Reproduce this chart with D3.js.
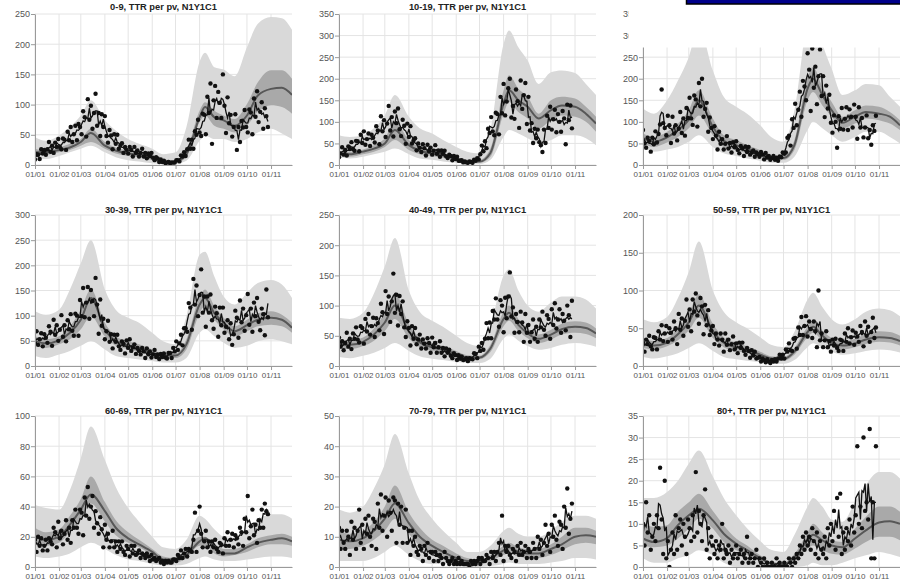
<!DOCTYPE html>
<html>
<head>
<meta charset="utf-8">
<script src="https://cdn.jsdelivr.net/npm/d3@7"></script>
<style>
  body { margin: 0; background: #fff; }
  svg { display: block; font-family: "Liberation Sans", Arial, sans-serif; }
  .grid line { stroke: #e4e4e4; stroke-width: 1; }
  .axis text { fill: #555; font-size: 9px; }
  .xaxis text { font-size: 8px; }
  .axis path, .axis line { stroke: #9a9a9a; }
  .title { font-size: 9.3px; font-weight: bold; fill: #222; }
</style>
</head>
<body>
<svg width="900" height="584"></svg>
<script>
// panel titles, one per age group
const titles = ["0-9, TTR per pv, N1Y1C1", "10-19, TTR per pv, N1Y1C1", "20-29, TTR per pv, N1Y1C1",
  "30-39, TTR per pv, N1Y1C1", "40-49, TTR per pv, N1Y1C1", "50-59, TTR per pv, N1Y1C1",
  "60-69, TTR per pv, N1Y1C1", "70-79, TTR per pv, N1Y1C1", "80+, TTR per pv, N1Y1C1"];
const yMax = [250, 350, 350, 300, 250, 200, 100, 50, 35];
const yStep = [50, 50, 50, 50, 50, 50, 20, 10, 5];

// model knots (dates) for the bands and median
const knotDates = ["2021-01-01","2021-01-15","2021-02-01","2021-02-15","2021-03-01","2021-03-14",
  "2021-04-01","2021-04-15","2021-05-01","2021-05-15","2021-06-01","2021-06-15","2021-07-01",
  "2021-07-15","2021-08-01","2021-08-08","2021-08-20","2021-09-01","2021-09-15","2021-10-01",
  "2021-10-15","2021-11-01","2021-11-15","2021-11-28"];

const upper95 = [
  [46,40,49,63,82,107,74,57,43,35,27,18,21,63,171,186,162,158,147,195,234,245,243,224],
  [69,65,69,85,115,162,112,85,73,58,42,31,27,81,281,312,273,242,188,215,219,213,188,162],
  [131,119,150,196,250,319,219,158,135,119,92,65,54,127,335,365,281,223,162,173,188,185,158,135],
  [109,102,112,152,204,250,152,112,96,86,66,49,43,99,221,227,178,138,122,145,165,171,162,135],
  [80,78,88,120,165,212,125,90,75,65,50,38,33,65,150,160,125,100,90,105,115,115,110,95],
  [62,58,65,90,125,165,100,72,58,50,38,28,25,45,88,97,78,62,55,62,72,76,74,66],
  [41,39,38,51,72,93,71,53,39,30,20,13,12,18,34,32,25,20,19,24,31,35,35,32],
  [19,18,20,26,34,44,31,22,16,12,8,5,5,7,12,13,11,10,10,12,15,17,17,16],
  [16,16,17.4,20,24,27,21,16,12,9,6,4,3.5,7.4,14,16,14,11,10.5,15,19,22,22,20.5]
];
const upper50 = [
  [27,24,29,35,43,60,38,29,24,19,14,9,8,24,90,104,90,82,76,101,137,157,157,143],
  [31,31,36,46,62,100,58,42,35,27,19,12,12,38,173,208,177,158,119,150,158,154,135,112],
  [73,65,77,96,127,173,108,69,58,46,35,23,21,58,204,227,181,146,112,127,138,135,123,104],
  [59,53,59,79,112,152,86,59,49,43,33,25,25,53,138,152,119,96,79,92,105,109,102,86],
  [45,42,47,62,88,120,70,47,38,33,25,18,17,35,90,100,78,62,52,60,70,74,72,62],
  [36,33,37,50,70,95,56,38,31,26,19,13,12,24,52,60,47,37,32,36,42,46,45,40],
  [26,23,25,34,45,60,43,31,23,18,12,7,6,11,20,20,15,12,12,15,19,21,22,20],
  [12,11,12,15,20,27,18,13,9,7,4.5,3,2.5,4,7,8,6.5,6,6,7.5,10,13,13,12],
  [10,9.3,9.7,12.8,15,17,13,9.7,6.6,5,2.7,1.2,1,3,8,10,8,6.2,5.8,8.9,11.6,14,14,12.8]
];
const median = [
  [21,21,25,29,38,53,32,24,19,17,12,6,6,18,79,96,79,74,65,82,115,126,128,116],
  [25,25,31,38,50,81,46,33,27,22,15,8,8,28,142,173,150,135,108,127,138,135,119,96],
  [62,54,64,81,105,150,88,56,46,37,27,18,16,46,177,200,162,127,98,112,123,119,112,92],
  [49,45,51,66,92,135,73,49,41,35,26,21,21,43,122,135,105,86,69,81,92,96,92,76],
  [37,35,40,52,72,100,57,39,31,27,20,14,14,29,78,88,68,54,45,52,61,65,63,54],
  [30,27,31,42,58,80,46,31,25,21,15,10,9,19,45,52,40,31,27,30,35,38,37,33],
  [20,18,20,28,38,48,37,26,19,15,10,5,5,8,17,19,13,9,9,13,16,18,19,17],
  [9,8.5,9.5,12,16,21,14.5,10,7,5,3,2,1.8,3,5.5,6.5,5,4.5,4.5,6,7.5,10,10.5,10],
  [6.6,5.8,6.7,9.7,12,13.5,10.8,7.7,5.4,3.9,2.1,0.8,0.6,2.3,6.2,7.5,6.2,5,4.6,6.6,8.5,10.3,10.6,10]
];
const lower50 = [
  [18,17,21,25,32,38,27,19,15,13,8,4,4,13,71,82,65,60,54,65,88,99,96,85],
  [21,19,25,31,42,58,35,25,21,16,12,5,5,19,119,146,123,108,85,104,115,112,100,77],
  [50,42,52,65,85,115,69,42,35,27,19,13,12,35,150,169,138,112,85,96,108,104,96,81],
  [40,36,43,53,73,99,59,40,33,28,21,16,16,33,105,119,92,73,59,69,79,82,79,66],
  [30,28,33,42,58,78,46,31,25,22,16,11,11,23,66,75,58,46,38,44,52,55,53,46],
  [24,22,26,34,47,64,37,25,20,17,12,8,7,15,38,44,34,26,22,25,29,32,31,27],
  [16,14,16,23,31,42,30,21,16,13,8,4,3,6,14,14,9,7,8,10,13,15,15,14],
  [6,6,7,9,12,16,11,7,5,3.5,2,1,1,2,4,4.5,3.5,3,3,4,5.5,7.5,8,7.5],
  [5,4.6,5,6.6,8.9,11.2,8.9,5.8,3.9,2.7,1.5,0.5,0.4,1.5,4.3,5,3.9,3.1,2.9,4.3,5.8,7,7,6.2]
];
const lower95 = [
  [13,10,15,21,27,32,21,13,8,6,3,2,2,7,40,49,43,43,38,43,54,60,52,43],
  [19,15,19,25,31,38,25,15,12,8,5,2,2,12,65,81,73,62,50,58,69,69,62,46],
  [42,31,36,42,54,69,42,27,21,15,10,5,5,19,81,100,85,69,54,65,77,77,65,50],
  [20,16,23,30,40,49,33,20,16,13,10,7,7,16,66,73,59,46,36,40,49,53,49,43],
  [15,13,17,22,30,38,25,16,12,10,7,5,5,12,45,52,42,33,27,30,35,38,36,32],
  [12,10,13,17,24,30,20,12,9,7,5,3,3,8,25,30,24,19,15,17,20,22,21,18],
  [7,6,7,9,13,16,12,8,5,4,2,1,1,2,6,7,5,4,4,5,6,7,7,6],
  [2,2,2,3,5,7,4,2,1,1,0.3,0,0,0.3,1,1.5,1,1,1,1.5,2,3,3,2.5],
  [2,1,1,2,2.7,3.9,2.7,1,0,0,0,0,0,0,0.4,1,0.4,0.4,1,2,2.7,3.5,3,2.3]
];

// observed values, one every 2 days from 1 Jan
const obsStart = "2021-01-01";
const obsEveryDays = 2;
const observed = [
  [9,18,17,10,26,19,25,17,26,38, 22,32,20,37,30,43,30,26,44,42, 25,55,41,63,38,51,65,41,68,63,
   51,89,79,47,109,75,98,60,86,118, 65,86,48,84,63,81,48,37,58,49, 26,51,35,50,27,32,36,20,30,25,
   19,30,25,14,30,20,24,14,20,27, 14,20,11,19,15,20,12,8,13,11, 5,9,5,7,3,4,5,3,4,4,
   4,8,8,6,16,14,21,15,26,42, 27,42,27,56,50,75,54,48,85,83, 51,113,86,135,35,107,131,78,121,103,
   78,150,98,53,112,69,83,47,63,84, 25,63,38,73,62,91,63,54,92,87, 51,110,80,122,71,88,104,60,94,81, 63],
  [18,27,41,24,35,22,43,37,53,37, 33,56,55,32,70,51,78,47,60,73, 44,70,63,52,90,80,48,113,78,104,
   65,96,137,80,111,66,124,97,131,83, 67,105,91,49,96,65,90,50,57,62, 34,50,40,30,48,39,22,47,32,40,
   24,33,46,26,34,19,34,26,33,20, 16,24,21,11,21,14,19,10,10,11, 6,8,6,5,8,7,5,12,10,16,
   13,25,45,32,55,39,84,74,111,78, 69,121,118,71,158,120,188,115,147,178, 200,110,137,107,175,148,86,196,130,162,
   190,95,158,80,97,51,84,62,82,53, 46,30,82,51,114,86,135,82,106,128, 76,118,100,77,125,108,48,140,104,138, 85],
  [81,50,40,63,56,31,63,48,78,52, 72,94,175,97,86,69,114,92,51,112, 73,92,57,84,123,74,108,68,132,109,
   156,108,93,161,152,89,190,136,200,112, 130,144,77,110,86,60,90,68,36,77, 49,60,36,49,67,38,51,29,53,41,
   55,35,27,44,39,21,43,30,42,24, 29,34,19,29,25,19,30,24,13,28, 17,21,12,16,21,12,17,10,20,18,
   29,26,29,63,68,45,106,86,142,92, 128,170,112,195,182,150,259,221,125,270, 179,228,141,206,268,160,206,111,184,131,
   163,98,75,115,100,40,113,84,132,82, 107,134,81,129,112,87,140,112,61,134, 87,109,64,87,115,62,81,47,92,79, 114],
  [45,69,42,53,65,39,63,56,46,79, 68,40,92,62,81,50,72,101,58,81, 49,91,73,103,70,60,104,100,60,131,
   99,155,97,126,157,94,151,129,99,175, 122,64,132,80,94,53,69,90,48,63, 35,62,48,62,39,32,49,44,25,51,
   36,53,30,37,43,24,36,30,23,36, 29,16,35,23,29,17,23,32,18,23, 14,24,18,25,17,15,26,26,16,36,
   29,49,32,45,62,41,75,75,68,125, 116,72,173,122,160,99,141,192,106,138, 78,138,106,142,91,74,118,105,58,116,
   81,116,66,78,91,53,85,42,63,110, 96,56,130,87,114,70,101,143,82,114, 68,126,99,135,88,71,114,103,61,152, 97],
  [47,32,41,26,38,55,32,45,28,54, 45,64,44,39,66,63,37,78,57,86, 52,66,80,48,79,71,59,103,89,53,
   124,86,115,73,107,153,88,118,67,116, 86,107,64,48,74,63,34,66,45,63, 36,44,52,29,44,37,29,46,38,22,
   47,31,38,22,31,41,22,30,16,29, 22,27,17,13,21,18,10,18,12,16, 10,11,13,8,13,12,11,21,20,13,
   32,25,38,27,45,71,46,72,46,91, 77,112,77,65,109,100,56,113,79,115, 155,82,97,55,86,73,56,90,72,40,
   86,55,68,40,56,77,45,65,40,77, 64,90,60,50,84,78,45,94,68,104, 62,77,94,55,86,75,59,100,84,48, 108],
  [31,19,35,29,40,26,22,38,37,22, 46,35,54,33,43,53,32,50,44,35, 59,50,29,69,48,63,40,60,88,52,
   75,46,88,72,96,67,56,90,79,42, 81,54,74,41,47,53,29,43,35,27, 43,35,19,43,28,35,21,29,39,22,
   30,17,31,24,31,20,15,24,20,11, 21,14,19,10,11,12,6,10,8,5, 9,6,4,8,6,9,6,10,15,10,
   15,10,22,19,30,21,20,36,37,23, 51,41,65,41,53,66,39,59,49,37, 59,46,25,100,34,43,25,34,46,25,
   33,19,35,27,36,24,20,35,34,20, 43,32,50,30,38,47,28,44,39,32, 53,45,26,59,40,52,32,45,64,37, 51],
  [18,10,20,14,19,11,14,18,11,19, 17,15,26,23,13,30,19,24,15,22, 31,18,26,16,31,26,38,26,22,38,
   36,21,46,34,53,32,40,47,26,37, 29,22,33,25,13,28,18,22,13,17, 24,13,17,10,17,12,17,10,8,14,
   12,7,14,9,14,8,9,11,6,9, 8,6,9,7,4,8,5,6,4,5, 6,3,4,2,4,3,4,3,3,5,
   5,4,8,6,11,6,9,12,7,12, 11,10,18,36,10,24,40,22,13,17, 24,13,17,10,17,13,18,12,10,16,
   15,9,19,14,23,14,18,22,13,21, 19,15,26,23,14,32,23,47,19,27, 38,21,28,16,31,26,38,26,42,37, 35],
  [13,6,12,8,6,12,10,4,15,9, 13,6,12,19,8,14,6,16,11,17, 10,7,16,15,6,21,13,24,12,17,
   23,10,22,18,12,23,22,8,21,14, 20,8,13,19,8,12,4,12,7,10, 5,4,7,6,2,7,4,8,3,5,
   5,2,5,4,2,4,3,1,5,3, 2,1,2,3,1,2,1,3,1,2, 1,1,1,1,0,2,1,2,1,2,
   3,1,3,2,2,4,3,1,5,3, 5,2,5,8,4,17,2,7,5,7, 4,3,6,5,2,7,4,8,4,5,
   7,3,6,5,3,8,6,3,10,6, 9,4,8,14,7,11,5,14,10,17, 9,7,15,14,6,20,13,26,11,16, 21],
  [10,5,15,8,12,4,7,10,6,12, 9,23,11,3,20,2,6,0,4,8, 3,12,4,9,11,5,10,7,3,11,
   9,6,12,7,22,8,13,10,6,12, 18,4,9,2,7,5,3,6,2,5, 4,10,2,4,3,5,1,4,2,3,
   5,2,3,4,1,3,2,7,1,2, 3,1,2,4,0,2,1,0,2,0, 1,0,0,1,0,0,2,0,1,0,
   0,1,0,0,2,1,0,2,1,3, 2,5,3,7,4,8,5,7,4,9, 6,3,8,2,6,4,3,7,2,9,
   5,10,6,13,4,16,7,17,3,8, 4,9,6,11,5,14,8,12,28,10, 14,9,30,13,15,11,32,2,15,2, 28]
];

const parse = d3.timeParse("%Y-%m-%d");
const knots = knotDates.map(parse);
const t0 = parse("2021-01-01"), t1 = parse("2021-11-28");
const months = d3.timeMonth.range(t0, parse("2021-11-02"));

const colX = [35, 339, 643], rowY = [14, 215, 416], titleGap = [4, 2, 2];
const W = 257, H = 151;

const svg = d3.select("svg");

titles.forEach((title, i) => {
  const row = Math.floor(i / 3);
  const g = svg.append("g").attr("transform", `translate(${colX[i % 3]},${rowY[row]})`);
  const x = d3.scaleTime().domain([t0, t1]).range([0, W]);
  const y = d3.scaleLinear().domain([0, yMax[i]]).range([H, 0]);
  const yTicks = d3.range(0, yMax[i] + 1e-9, yStep[i]);

  g.append("clipPath").attr("id", "clip" + i)
    .append("rect").attr("width", W).attr("height", H);

  const grid = g.append("g").attr("class", "grid");
  grid.selectAll("line.v").data(months).join("line").attr("class", "v")
    .attr("x1", x).attr("x2", x).attr("y1", 0).attr("y2", H);
  grid.selectAll("line.h").data(yTicks).join("line").attr("class", "h")
    .attr("x1", 0).attr("x2", W).attr("y1", y).attr("y2", y);

  const plot = g.append("g").attr("clip-path", `url(#clip${i})`);

  const band = (lo, hi) => d3.area()
    .x((d, k) => x(knots[k]))
    .y0((d, k) => y(lo[k]))
    .y1((d, k) => y(hi[k]))
    .curve(d3.curveMonotoneX);

  plot.append("path").datum(knots).attr("fill", "#d9d9d9")
    .attr("d", band(lower95[i], upper95[i]));
  plot.append("path").datum(knots).attr("fill", "#a9a9a9")
    .attr("d", band(lower50[i], upper50[i]));

  plot.append("path").datum(median[i])
    .attr("fill", "none").attr("stroke", "#575757").attr("stroke-width", 2)
    .attr("d", d3.line().x((d, k) => x(knots[k])).y(d => y(d)).curve(d3.curveMonotoneX));

  const start = parse(obsStart);
  const obs = observed[i].map((v, k) => ({ date: d3.timeDay.offset(start, k * obsEveryDays), v }));
  // rolling mean over neighbouring observations
  const smooth = obs.map((d, k) => ({
    date: d.date,
    v: d3.mean(obs.slice(Math.max(0, k - 1), k + 2), o => o.v)
  }));

  plot.append("g").selectAll("circle").data(obs).join("circle")
    .attr("cx", d => x(d.date)).attr("cy", d => y(d.v))
    .attr("r", 2.2).attr("fill", "#111");

  plot.append("path").datum(smooth)
    .attr("fill", "none").attr("stroke", "#111").attr("stroke-width", 1.3)
    .attr("d", d3.line().x(d => x(d.date)).y(d => y(d.v)));

  g.append("g").attr("class", "axis xaxis").attr("transform", `translate(0,${H})`)
    .call(d3.axisBottom(x).tickValues(months).tickFormat(d3.timeFormat("%d/%m"))
      .tickSize(4).tickSizeOuter(0).tickPadding(2.5));
  g.append("g").attr("class", "axis")
    .call(d3.axisLeft(y).tickValues(yTicks).tickSize(4).tickSizeOuter(0).tickPadding(1));

  g.append("text").attr("class", "title")
    .attr("x", W / 2).attr("y", -titleGap[row])
    .attr("text-anchor", "middle").text(title);
});

// white cover and dark blue strip over the top right corner
svg.append("rect").attr("x", 628.5).attr("y", 0).attr("width", 272).attr("height", 47.5).attr("fill", "#fff");
svg.append("rect").attr("x", 686.5).attr("y", -6).attr("width", 220).attr("height", 10)
  .attr("fill", "#00008a").attr("stroke", "#000").attr("stroke-width", 1.5);
</script>
</body>
</html>
